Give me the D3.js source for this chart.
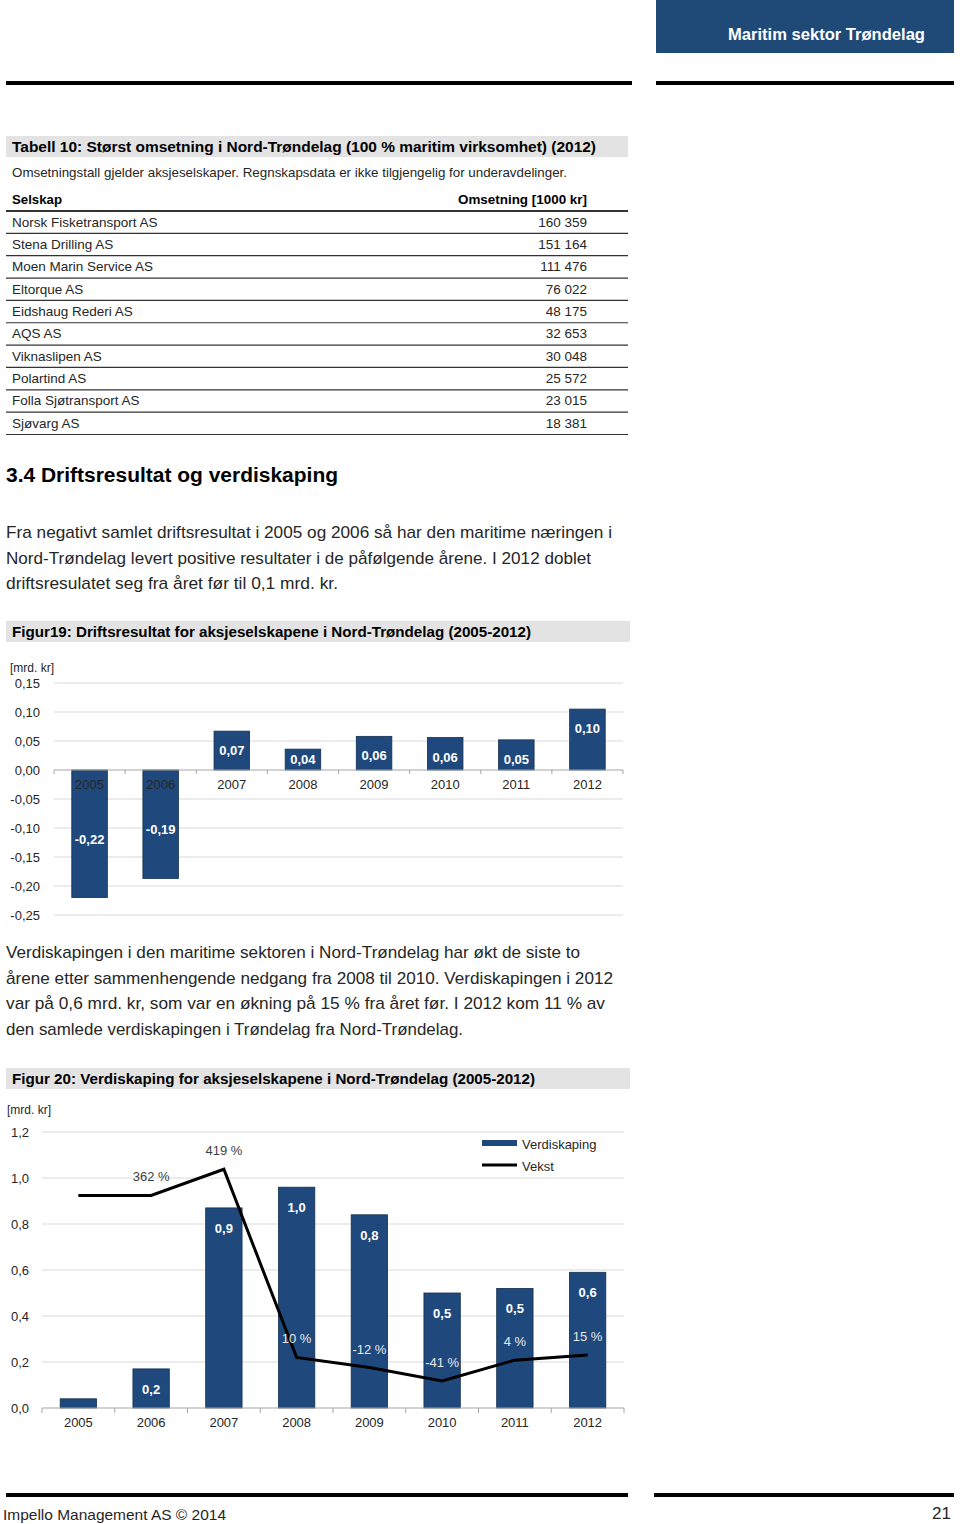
<!DOCTYPE html>
<html>
<head>
<meta charset="utf-8">
<script src="https://cdn.jsdelivr.net/npm/d3@7"></script>
<style>
  body { margin: 0; background: #fff; }
  svg { display: block; font-family: "Liberation Sans", Arial, sans-serif; }
</style>
</head>
<body>
<svg id="page" width="960" height="1524"></svg>
<script>
// ---- data ----
const companies = ["Norsk Fisketransport AS", "Stena Drilling AS", "Moen Marin Service AS", "Eltorque AS",
  "Eidshaug Rederi AS", "AQS AS", "Viknaslipen AS", "Polartind AS", "Folla Sjøtransport AS", "Sjøvarg AS"];
const turnover = ["160 359", "151 164", "111 476", "76 022", "48 175", "32 653", "30 048", "25 572", "23 015", "18 381"];

const years = ["2005", "2006", "2007", "2008", "2009", "2010", "2011", "2012"];
const resultValues = [-0.22, -0.187, 0.067, 0.036, 0.058, 0.056, 0.052, 0.105];
const resultLabels = ["-0,22", "-0,19", "0,07", "0,04", "0,06", "0,06", "0,05", "0,10"];
const resultTicks = [0.15, 0.10, 0.05, 0, -0.05, -0.10, -0.15, -0.20, -0.25];

const valueAdded = [0.04, 0.17, 0.87, 0.96, 0.84, 0.50, 0.52, 0.59];
const valueAddedLabels = [null, "0,2", "0,9", "1,0", "0,8", "0,5", "0,5", "0,6"];
const growth = [362, 362, 419, 10, -12, -41, 4, 15];
const growthLabels = [null, "362 %", "419 %", "10 %", "-12 %", "-41 %", "4 %", "15 %"];
const valueTicks = [1.2, 1.0, 0.8, 0.6, 0.4, 0.2, 0];

const para1 = [
  "Fra negativt samlet driftsresultat i 2005 og 2006 så har den maritime næringen i",
  "Nord-Trøndelag levert positive resultater i de påfølgende årene. I 2012 doblet",
  "driftsresulatet seg fra året før til 0,1 mrd. kr."
];
const para2 = [
  "Verdiskapingen i den maritime sektoren i Nord-Trøndelag har økt de siste to",
  "årene etter sammenhengende nedgang fra 2008 til 2010. Verdiskapingen i 2012",
  "var på 0,6 mrd. kr, som var en økning på 15 % fra året før. I 2012 kom 11 % av",
  "den samlede verdiskapingen i Trøndelag fra Nord-Trøndelag."
];

const svg = d3.select("#page");
const blue = "#1f497d";
const ink = "#262626";
const fmt = d => d3.format(".2f")(d).replace(".", ",").replace("−", "-");
const fmt1 = d => d3.format(".1f")(d).replace(".", ",");

// squeeze a text to a measured width (original font is narrower)
function fit(sel, w) {
  sel.each(function () {
    if (this.getComputedTextLength() > 0) {
      d3.select(this).attr("textLength", w).attr("lengthAdjust", "spacingAndGlyphs");
    }
  });
  return sel;
}

function text(x, y, s, size, opts = {}) {
  const t = svg.append("text")
    .attr("x", x).attr("y", y)
    .attr("font-size", size)
    .attr("fill", opts.fill || ink)
    .attr("font-weight", opts.bold ? "bold" : null)
    .attr("text-anchor", opts.anchor || "start")
    .text(s);
  if (opts.family) t.attr("font-family", opts.family);
  if (opts.width) fit(t, opts.width);
  return t;
}

// ---- page header / footer ----
svg.append("rect").attr("x", 656).attr("y", 0).attr("width", 298).attr("height", 53).attr("fill", "#1f4a78");
text(925, 40, "Maritim sektor Trøndelag", 17, { fill: "#fff", bold: true, anchor: "end", width: 197,
  family: "'Liberation Sans Narrow', 'Liberation Sans', Arial, sans-serif" });
svg.append("rect").attr("x", 6).attr("y", 81).attr("width", 626).attr("height", 4).attr("fill", "#000");
svg.append("rect").attr("x", 656).attr("y", 81).attr("width", 298).attr("height", 4).attr("fill", "#000");

svg.append("rect").attr("x", 6).attr("y", 1493).attr("width", 622).attr("height", 4).attr("fill", "#000");
svg.append("rect").attr("x", 654).attr("y", 1493).attr("width", 300).attr("height", 4).attr("fill", "#000");
text(3, 1520, "Impello Management AS © 2014", 15, { width: 223 });
text(951, 1519, "21", 17, { anchor: "end" });

// ---- table 10 ----
svg.append("rect").attr("x", 6).attr("y", 136).attr("width", 622).attr("height", 21).attr("fill", "#e3e3e3");
text(12, 151.5, "Tabell 10: Størst omsetning i Nord-Trøndelag (100 % maritim virksomhet) (2012)", 14, { bold: true, fill: "#000", width: 584 });
text(12, 177, "Omsetningstall gjelder aksjeselskaper. Regnskapsdata er ikke tilgjengelig for underavdelinger.", 13, { width: 555 });
text(12, 204, "Selskap", 13, { bold: true, fill: "#000", width: 50 });
text(587, 204, "Omsetning [1000 kr]", 13, { bold: true, fill: "#000", anchor: "end", width: 129 });

const rowY = d3.scaleBand().domain(d3.range(companies.length)).range([211, 434.5]);
svg.append("line").attr("x1", 6).attr("x2", 628).attr("y1", 211).attr("y2", 211)
  .attr("stroke", "#333").attr("stroke-width", 1.8);
const rows = svg.append("g").selectAll("g").data(companies).join("g")
  .attr("transform", (d, i) => `translate(0,${rowY(i)})`);
rows.append("text").attr("x", 12).attr("y", rowY.bandwidth() / 2 + 4.5)
  .attr("font-size", 13.5).attr("fill", ink).text(d => d);
rows.append("text").attr("x", 587).attr("y", rowY.bandwidth() / 2 + 4.5)
  .attr("font-size", 13.5).attr("fill", ink).attr("text-anchor", "end").text((d, i) => turnover[i]);
rows.append("line").attr("x1", 6).attr("x2", 628)
  .attr("y1", rowY.bandwidth()).attr("y2", rowY.bandwidth())
  .attr("stroke", "#333").attr("stroke-width", 1.2);

// ---- section text ----
text(6, 482, "3.4 Driftsresultat og verdiskaping", 20, { bold: true, fill: "#000", width: 332 });
const p1w = [606, 585, 332];
para1.forEach((s, i) => text(6, 538 + i * 25.5, s, 17, { width: p1w[i] }));

// ---- figure 19 ----
svg.append("rect").attr("x", 6).attr("y", 621).attr("width", 624).attr("height", 21).attr("fill", "#e3e3e3");
text(12, 636.5, "Figur19: Driftsresultat for aksjeselskapene i Nord-Trøndelag (2005-2012)", 14, { bold: true, fill: "#000", width: 519 });

const x1 = d3.scaleBand().domain(years).range([54, 623]).paddingInner(0.5).paddingOuter(0.25);
const y1 = d3.scaleLinear().domain([-0.25, 0.15]).range([915, 683]);
const c1 = svg.append("g");
text(10, 672, "[mrd. kr]", 12);

c1.append("g").selectAll("line").data(resultTicks.filter(d => d !== 0)).join("line")
  .attr("x1", 54).attr("x2", 623).attr("y1", d => y1(d)).attr("y2", d => y1(d))
  .attr("stroke", "#d9d9d9");
c1.append("g").selectAll("text").data(resultTicks).join("text")
  .attr("x", 40).attr("y", d => y1(d) + 4.5).attr("text-anchor", "end")
  .attr("font-size", 13).attr("fill", ink).text(fmt);

c1.append("g").selectAll("rect").data(years).join("rect")
  .attr("x", d => x1(d)).attr("width", x1.bandwidth())
  .attr("y", (d, i) => y1(Math.max(0, resultValues[i])))
  .attr("height", (d, i) => Math.abs(y1(resultValues[i]) - y1(0)))
  .attr("fill", blue).attr("stroke", "#15304f").attr("stroke-width", 0.8);

// category axis on zero line
const axis1 = c1.append("g").attr("transform", `translate(0,${y1(0)})`);
axis1.append("line").attr("x1", 54).attr("x2", 623).attr("stroke", "#a6a6a6").attr("stroke-width", 1.2);
axis1.selectAll(".tk").data(d3.range(years.length + 1)).join("line").attr("class", "tk")
  .attr("x1", i => 54 + i * x1.step()).attr("x2", i => 54 + i * x1.step())
  .attr("y1", 0).attr("y2", 4).attr("stroke", "#a6a6a6");
axis1.selectAll("text").data(years).join("text")
  .attr("x", d => x1(d) + x1.bandwidth() / 2).attr("y", 19)
  .attr("text-anchor", "middle").attr("font-size", 13).attr("fill", ink).text(d => d);

c1.append("g").selectAll("text").data(years).join("text")
  .attr("x", d => x1(d) + x1.bandwidth() / 2)
  .attr("y", (d, i) => {
    const v = resultValues[i];
    return v >= 0 ? Math.min(y1(v) + 19, y1(0) - 11) + 5 : y1(v / 2) + 10;
  })
  .attr("text-anchor", "middle").attr("font-size", 13).attr("font-weight", "bold").attr("fill", "#fff")
  .text((d, i) => resultLabels[i]);

// ---- second paragraph ----
const p2w = [574, 607, 599, 457];
para2.forEach((s, i) => text(6, 958 + i * 25.7, s, 17, { width: p2w[i] }));

// ---- figure 20 ----
svg.append("rect").attr("x", 6).attr("y", 1068).attr("width", 624).attr("height", 21).attr("fill", "#e3e3e3");
text(12, 1083.5, "Figur 20: Verdiskaping for aksjeselskapene i Nord-Trøndelag (2005-2012)", 14, { bold: true, fill: "#000", width: 523 });

const x2 = d3.scaleBand().domain(years).range([42, 624]).paddingInner(0.5).paddingOuter(0.25);
const y2 = d3.scaleLinear().domain([0, 1.2]).range([1408, 1132]);
const g2 = d3.scaleLinear().domain([-100, 500]).range([1408, 1132]);
const c2 = svg.append("g");
text(7, 1114, "[mrd. kr]", 12);

c2.append("g").selectAll("line").data(valueTicks.filter(d => d !== 0)).join("line")
  .attr("x1", 42).attr("x2", 624).attr("y1", d => y2(d)).attr("y2", d => y2(d))
  .attr("stroke", "#d9d9d9");
c2.append("g").selectAll("text").data(valueTicks).join("text")
  .attr("x", 29).attr("y", d => y2(d) + 4.5).attr("text-anchor", "end")
  .attr("font-size", 13).attr("fill", ink).text(fmt1);

c2.append("g").selectAll("rect").data(years).join("rect")
  .attr("x", d => x2(d)).attr("width", x2.bandwidth())
  .attr("y", (d, i) => y2(valueAdded[i]))
  .attr("height", (d, i) => y2(0) - y2(valueAdded[i]))
  .attr("fill", blue).attr("stroke", "#15304f").attr("stroke-width", 0.8);

const axis2 = c2.append("g").attr("transform", `translate(0,${y2(0)})`);
axis2.append("line").attr("x1", 42).attr("x2", 624).attr("stroke", "#a6a6a6").attr("stroke-width", 1.2);
axis2.selectAll(".tk").data(d3.range(years.length + 1)).join("line").attr("class", "tk")
  .attr("x1", i => 42 + i * x2.step()).attr("x2", i => 42 + i * x2.step())
  .attr("y1", 0).attr("y2", 5).attr("stroke", "#a6a6a6");
axis2.selectAll("text").data(years).join("text")
  .attr("x", d => x2(d) + x2.bandwidth() / 2).attr("y", 19)
  .attr("text-anchor", "middle").attr("font-size", 13).attr("fill", ink).text(d => d);

c2.append("g").selectAll("text").data(years).join("text")
  .attr("x", d => x2(d) + x2.bandwidth() / 2)
  .attr("y", (d, i) => y2(valueAdded[i]) + 25)
  .attr("text-anchor", "middle").attr("font-size", 13).attr("font-weight", "bold").attr("fill", "#fff")
  .text((d, i) => valueAddedLabels[i]);

const cx = d => x2(d) + x2.bandwidth() / 2;
const line = d3.line().x(d => cx(d)).y((d, i) => g2(growth[i]));
c2.append("path").datum(years).attr("d", line)
  .attr("fill", "none").attr("stroke", "#000").attr("stroke-width", 3).attr("stroke-linejoin", "miter");

c2.append("g").selectAll("text").data(years).join("text")
  .attr("x", d => cx(d)).attr("y", (d, i) => g2(growth[i]) - 14)
  .attr("text-anchor", "middle").attr("font-size", 13)
  .attr("fill", (d, i) => g2(growth[i]) - 18 > y2(valueAdded[i]) ? "#e8e8e8" : "#404040")
  .text((d, i) => growthLabels[i]);

// legend
const lg = c2.append("g").attr("transform", "translate(482,1143)");
lg.append("rect").attr("x", 0).attr("y", -3).attr("width", 35).attr("height", 6).attr("fill", blue);
lg.append("text").attr("x", 40).attr("y", 6).attr("font-size", 13).attr("fill", ink).text("Verdiskaping");
lg.append("line").attr("x1", 0).attr("x2", 35).attr("y1", 22).attr("y2", 22).attr("stroke", "#000").attr("stroke-width", 3);
lg.append("text").attr("x", 40).attr("y", 28).attr("font-size", 13).attr("fill", ink).text("Vekst");
</script>
</body>
</html>
